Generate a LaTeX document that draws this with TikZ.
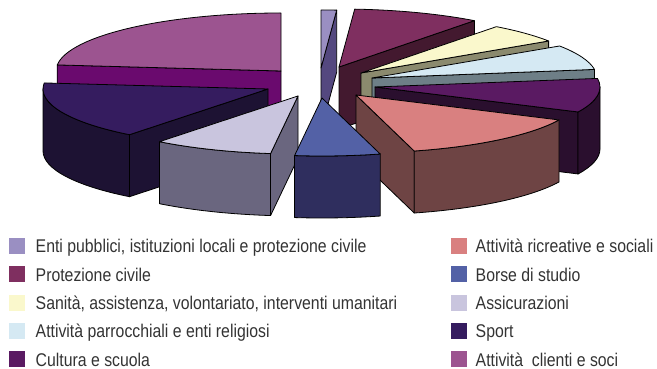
\documentclass[tikz,border=0pt]{standalone}
\usepackage{fontspec}
\setmainfont{Liberation Sans}
\newfontfamily\legfont{Liberation Sans}[FakeStretch=0.86]
\definecolor{entiT}{HTML}{9A8FC2}\definecolor{entiS}{HTML}{54487F}
\definecolor{protT}{HTML}{7F2F60}\definecolor{protS}{HTML}{43192F}
\definecolor{saniT}{HTML}{FAF8CC}\definecolor{saniS}{HTML}{8B8A6E}
\definecolor{parrT}{HTML}{D5E9F3}\definecolor{parrS}{HTML}{6E7F87}
\definecolor{cultT}{HTML}{5A1A62}\definecolor{cultS}{HTML}{2A0F2E}
\definecolor{ricrT}{HTML}{D98080}\definecolor{ricrS}{HTML}{6E4444}
\definecolor{borsT}{HTML}{5361A6}\definecolor{borsS}{HTML}{2F2E5E}
\definecolor{assiT}{HTML}{C9C5DE}\definecolor{assiS}{HTML}{6A667F}
\definecolor{spoT}{HTML}{351C5F}\definecolor{spoS}{HTML}{1D1233}
\definecolor{cliT}{HTML}{9C5490}\definecolor{cliS}{HTML}{6A0A6E}
\definecolor{legtext}{HTML}{333333}
% top face: cx cy a1 a2 colour
\newcommand{\pietop}[5]{\filldraw[pieedge,fill=#5] (#1,#2) -- ++(#3:225 and 58) arc[start angle=#3,end angle=#4,x radius=225,y radius=58] -- cycle;}
% radial face: cx cy angle colour
\newcommand{\pieradial}[4]{\filldraw[pieedge,fill=#4] (#1,#2) -- ++(#3:225 and 58) -- ++(0,-62) -- ++(#3+180:225 and 58) -- cycle;}
% outer curved face: cx cy s e colour
\newcommand{\pieside}[5]{\filldraw[pieedge,fill=#5] (#1,#2) ++(#3:225 and 58) arc[start angle=#3,end angle=#4,x radius=225,y radius=58] -- ++(0,-62) arc[start angle=#4,end angle=#3,x radius=225,y radius=58] -- cycle;}
\begin{document}
\begin{tikzpicture}[x=1pt,y=1pt,
  pieedge/.style={draw=black,line width=0.8pt,line join=round},
  legsq/.style={draw=none,minimum size=16pt,inner sep=0pt},
  legtxt/.style={anchor=base west,inner sep=0pt,text=legtext,font=\legfont\fontsize{18.4pt}{20pt}\selectfont}]
\useasboundingbox (0,0) rectangle (657,369);
% Enti pubblici
\pieradial{321}{301}{86}{entiS}
\pietop{321}{301}{86}{90}{entiT}
% Protezione civile
\pieradial{339}{302}{53}{protS}
\pietop{339}{302}{53}{86}{protT}
% Attivita clienti e soci
\pieradial{281}{298}{174}{cliS}
\pietop{281}{298}{90}{174}{cliT}
% Sanita
\pieradial{361}{296}{33.5}{saniS}
\pietop{361}{296}{33.5}{53}{saniT}
% Parrocchiali
\pieradial{372}{291}{8.5}{parrS}
\pietop{372}{291}{8.5}{33.5}{parrT}
% Cultura
\pieradial{375}{282}{-25.5}{cultS}
\pieside{375}{282}{-25.5}{0}{cultS}
\pietop{375}{282}{-25.5}{8.5}{cultT}
% Sport
\pieradial{268}{280}{232}{spoS}
\pieside{268}{280}{180}{232}{spoS}
\pietop{268}{280}{174}{232}{spoT}
% Attivita ricreative
\pieradial{356}{274}{-75}{ricrS}
\pieside{356}{274}{-75}{-25.5}{ricrS}
\pietop{356}{274}{-75}{-25.5}{ricrT}
% Assicurazioni
\pieradial{298}{273}{263}{assiS}
\pieside{298}{273}{232}{263}{assiS}
\pietop{298}{273}{232}{263}{assiT}
% Borse di studio
\pieside{322}{271}{-97}{-75}{borsS}
\pietop{322}{271}{-97}{-75}{borsT}
% legend
\node[legsq,fill=entiT] (sq1) at (16.5,123) {};
\node[legsq,fill=protT] (sq2) at (16.5,94.7) {};
\node[legsq,fill=saniT] (sq3) at (16.5,66.4) {};
\node[legsq,fill=parrT] (sq4) at (16.5,38.1) {};
\node[legsq,fill=cultT] (sq5) at (16.5,9.8) {};
\node[legsq,fill=ricrT] (sq6) at (458.5,123) {};
\node[legsq,fill=borsT] (sq7) at (458.5,94.7) {};
\node[legsq,fill=assiT] (sq8) at (458.5,66.4) {};
\node[legsq,fill=spoT] (sq9) at (458.5,38.1) {};
\node[legsq,fill=cliT] (sq10) at (458.5,9.8) {};
\node[legtxt] (t1) at (35.5,116) {Enti pubblici, istituzioni locali e protezione civile};
\node[legtxt] (t2) at (35.5,87.7) {Protezione civile};
\node[legtxt] (t3) at (35.5,59.4) {Sanità, assistenza, volontariato, interventi umanitari};
\node[legtxt] (t4) at (35.5,31.1) {Attività parrocchiali e enti religiosi};
\node[legtxt] (t5) at (35.5,2.8) {Cultura e scuola};
\node[legtxt] (t6) at (475.5,116) {Attività ricreative e sociali};
\node[legtxt] (t7) at (475.5,87.7) {Borse di studio};
\node[legtxt] (t8) at (475.5,59.4) {Assicurazioni};
\node[legtxt] (t9) at (475.5,31.1) {Sport};
\node[legtxt] (t10) at (475.5,2.8) {Attività~ clienti e soci};
\end{tikzpicture}
\end{document}
